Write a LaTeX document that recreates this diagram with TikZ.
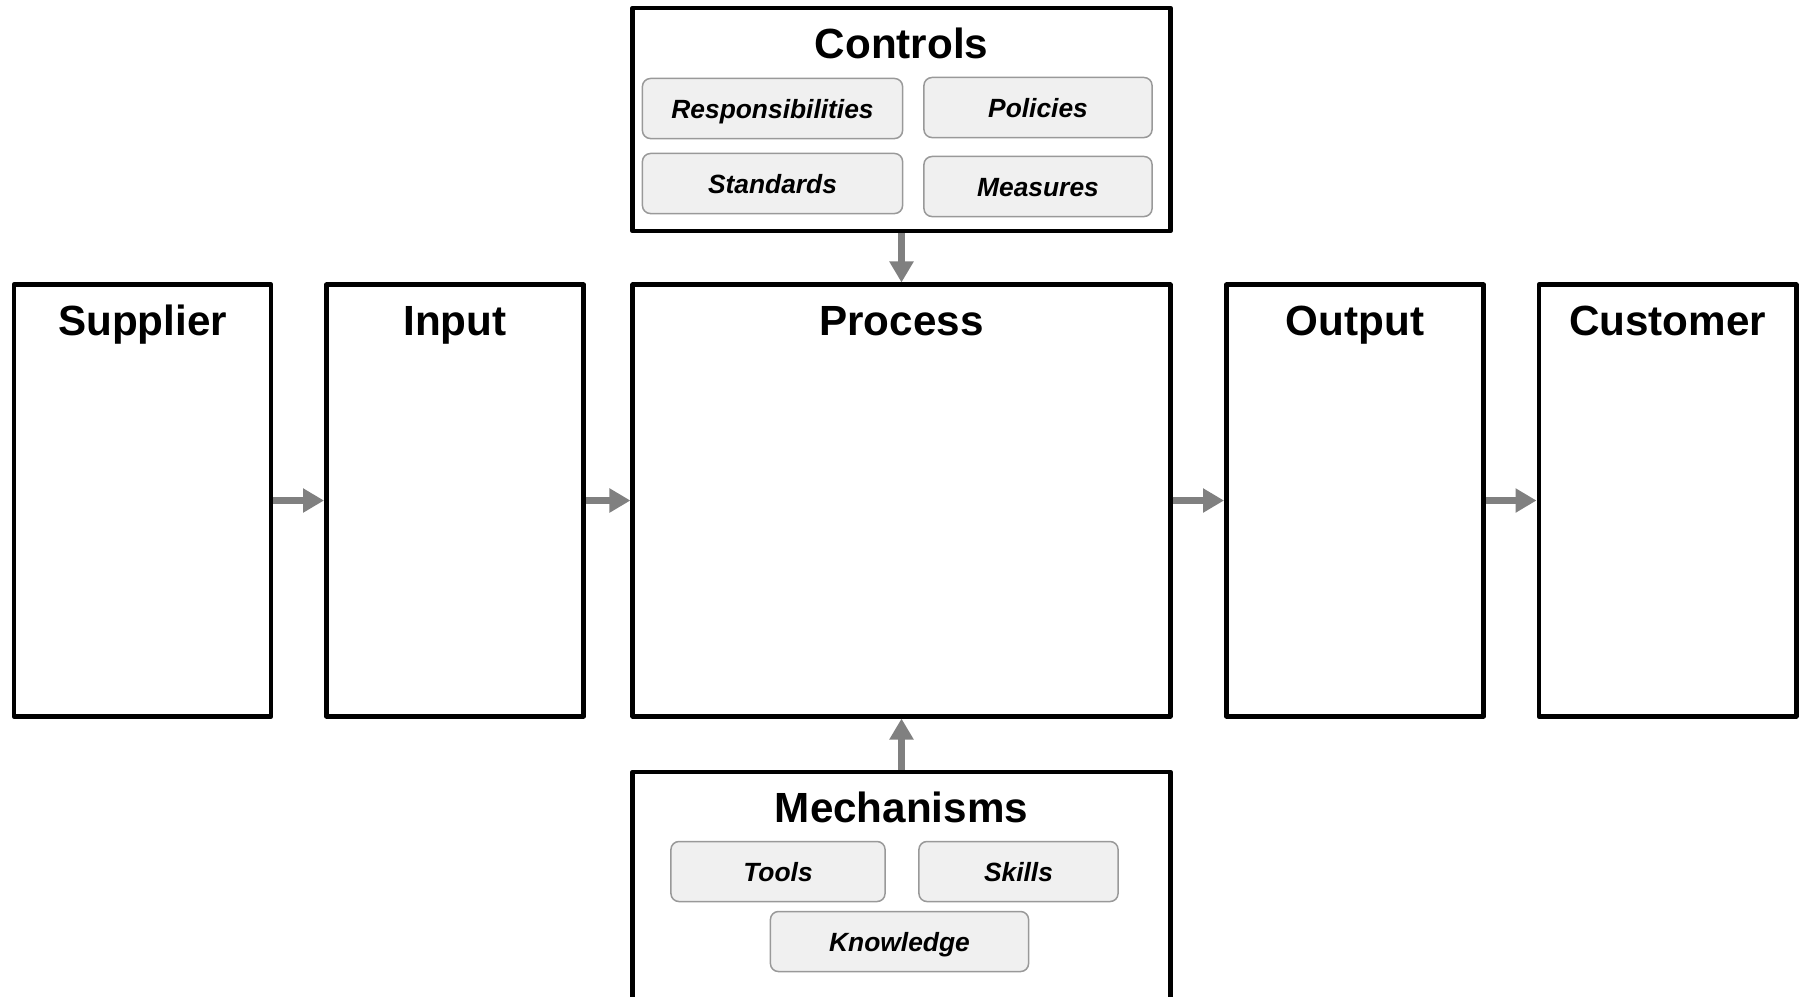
\documentclass[tikz,border=0pt]{standalone}
\usepackage{fontspec}
\setmainfont{Liberation Sans}
\usetikzlibrary{arrows.meta}

\tikzset{
    stage/.style={draw, line width=0.048cm, line join=round, minimum width=2.57cm, minimum height=4.31cm, inner sep=0},
    heading/.style={font=\bfseries\fontsize{12}{14}\selectfont, anchor=base, inner sep=0},
    item/.style={draw=black!40, fill=black!6, rounded corners=0.08cm, line width=0.015cm,
        font=\bfseries\itshape\fontsize{7.5}{9}\selectfont, text height=0.19cm, text depth=0pt,
        inner sep=0, minimum height=0.6cm},
    flow/.style={draw=black!50, line width=0.07cm, -{Triangle[width=0.23cm,length=0.21cm]}}
}

\begin{document}
\begin{tikzpicture}[x=0.01cm, y=-0.01cm]
    \useasboundingbox (0,0) rectangle (1803,996);
    \clip (0,0) rectangle (1803,996);

    \node[stage] (supplier) at (142.5,500.5) {};
    \node[stage] (input) at (455,500.5) {};
    \node[stage, minimum width=5.37cm] (process) at (901.5,500.5) {};
    \node[stage] (output) at (1355,500.5) {};
    \node[stage] (customer) at (1667.5,500.5) {};

    \node[heading] (suppliertitle) at (142.5,335) {Supplier};
    \node[heading] (inputtitle) at (455,335) {Input};
    \node[heading] (processtitle) at (901.5,335) {Process};
    \node[heading] (outputtitle) at (1355,335) {Output};
    \node[heading] (customertitle) at (1667.5,335) {Customer};

    % controls
    \node[stage, minimum width=5.37cm, minimum height=2.23cm] (controls) at (901.5,119.5) {};
    \node[heading] (controlstitle) at (901.5,58) {Controls};
    \node[item, minimum width=2.6cm] (resp) at (772.5,108.5) {Responsibilities};
    \node[item, minimum width=2.28cm] (policies) at (1038,107.5) {Policies};
    \node[item, minimum width=2.6cm] (standards) at (772.5,183.5) {Standards};
    \node[item, minimum width=2.28cm] (measures) at (1038,186.5) {Measures};

    % mechanisms
    \node[stage, minimum width=5.37cm, minimum height=2.3cm] (mechanisms) at (901.5,887) {};
    \node[heading] (mechanismstitle) at (901.5,822) {Mechanisms};
    \node[item, minimum width=2.14cm] (tools) at (778,871.5) {Tools};
    \node[item, minimum width=1.99cm] (skills) at (1018.5,871.5) {Skills};
    \node[item, minimum width=2.58cm] (knowledge) at (899.5,941.5) {Knowledge};

    \draw[flow] (supplier) -- (input);
    \draw[flow] (input) -- (process);
    \draw[flow] (process) -- (output);
    \draw[flow] (output) -- (customer);
    \draw[flow] (controls) -- (process);
    \draw[flow] (mechanisms) -- (process);
\end{tikzpicture}
\end{document}
